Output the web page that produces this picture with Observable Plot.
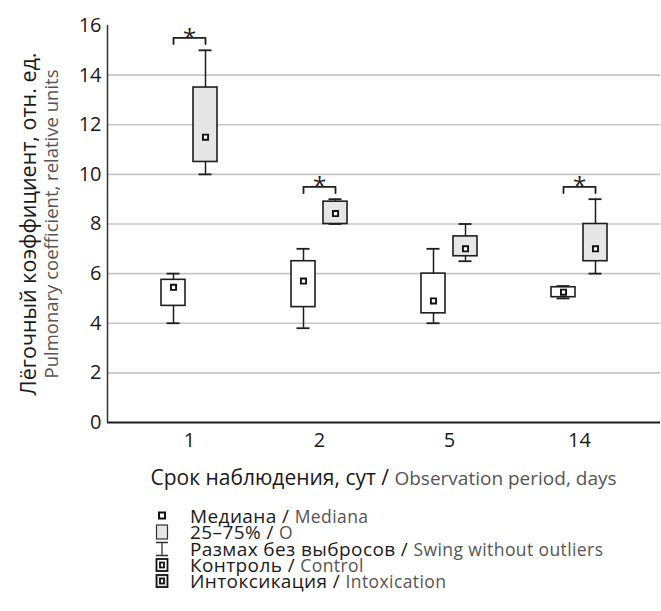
<!DOCTYPE html>
<html><head><meta charset="utf-8">
<script src="https://cdn.jsdelivr.net/npm/d3@7"></script>
<script src="https://cdn.jsdelivr.net/npm/@observablehq/plot@0.6"></script>
<style>
body{margin:0;background:#fff;font-family:"Open Sans",sans-serif;}
#wrap{position:relative;width:661px;height:611px;background:#fff;}
#xtitle{position:absolute;left:107px;width:553px;top:464px;text-align:center;white-space:pre;line-height:26px;}
.blk{color:#1a1a1a;font-size:21px;white-space:pre;}
.gry{color:#555;font-size:19px;white-space:pre;}
#legend{position:absolute;left:150px;top:508px;}
.row{display:flex;align-items:center;height:16.3px;white-space:pre;line-height:16px;letter-spacing:0.4px;}
.row svg{width:40px;height:16px;flex:none;}
.row .blk{font-size:19px;}
.row .gry{font-size:17.5px;}
</style></head>
<body><div id="wrap"><div id="chart"></div>
<div id="xtitle"></div>
<div id="legend"></div></div>
<script>
// ---- data ----
const days = ["1", "2", "5", "14"];
const groups = ["Контроль", "Интоксикация"];
const ctrlMin = [4.0, 3.8, 4.0, 5.0];
const ctrlQ1  = [4.7, 4.65, 4.4, 5.05];
const ctrlMed = [5.45, 5.7, 4.9, 5.25];
const ctrlQ3  = [5.75, 6.5, 6.0, 5.45];
const ctrlMax = [6.0, 7.0, 7.0, 5.5];
const intMin  = [10.0, 8.0, 6.5, 6.0];
const intQ1   = [10.5, 8.0, 6.7, 6.5];
const intMed  = [11.5, 8.42, 7.0, 7.0];
const intQ3   = [13.5, 8.9, 7.5, 8.0];
const intMax  = [15.0, 9.0, 8.0, 9.0];
const significant = [true, true, false, true];
const yTicks = [0, 2, 4, 6, 8, 10, 12, 14, 16];
const gridTicks = [2, 4, 6, 8, 10, 12, 14];
const yTitleRu = "Лёгочный коэффициент, отн. ед.";
const yTitleEn = "Pulmonary coefficient, relative units";
const xTitleRu = "Срок наблюдения, сут / ";
const xTitleEn = "Observation period, days";
const legendRu = ["Медиана / ", "25–75% / ", "Размах без выбросов / ", "Контроль / ", "Интоксикация / "];
const legendEn = ["Mediana", "O", "Swing without outliers", "Control", "Intoxication"];

// ---- layout constants (pixels → index units, one day step ≈ 130px) ----
const step = 130;
const xDomain = [-82 / step, 3 + 81 / step];
const off = 16 / step, hw = 12 / step, cap = 6.5 / step;

const rows = days.flatMap((d, i) => [
  {day: d, i, group: groups[0], pos: i - off, min: ctrlMin[i], q1: ctrlQ1[i], med: ctrlMed[i], q3: ctrlQ3[i], max: ctrlMax[i]},
  {day: d, i, group: groups[1], pos: i + off, min: intMin[i], q1: intQ1[i], med: intMed[i], q3: intQ3[i], max: intMax[i]}
]);
const sig = days.map((d, i) => ({day: d, i, x1: i - off, x2: i + off, y: intMax[i] + 0.5})).filter(d => significant[d.i]);
const bracketPts = sig.flatMap(s => [
  {day: s.day, x: s.x1, y: s.y - 0.25},
  {day: s.day, x: s.x1, y: s.y},
  {day: s.day, x: s.x2, y: s.y},
  {day: s.day, x: s.x2, y: s.y - 0.25}
]);

const ink = "#1e1e1e";
const chart = Plot.plot({
  width: 661, height: 460,
  marginLeft: 107, marginRight: 1, marginTop: 25, marginBottom: 38,
  x: {type: "linear", domain: xDomain},
  y: {domain: [0, 16]},
  style: {fontFamily: "'Open Sans', sans-serif", fontSize: "20px", color: "#1a1a1a", background: "#fff", overflow: "visible"},
  marks: [
    Plot.ruleY(gridTicks, {stroke: "#c6c6c6", strokeWidth: 1.6}),
    Plot.ruleX([xDomain[0]], {y1: 0, y2: 16, stroke: "#333", strokeWidth: 1.5}),
    Plot.ruleY([0], {stroke: ink, strokeWidth: 2}),
    Plot.axisY({ticks: yTicks, tickSize: 0, tickPadding: 6, fontSize: 20, label: null}),
    Plot.axisX({ticks: [0, 1, 2, 3], tickFormat: i => days[i], tickSize: 0, tickPadding: 10, fontSize: 20, label: null}),
    Plot.ruleX(rows, {x: "pos", y1: "min", y2: "max", stroke: ink, strokeWidth: 1.5}),
    Plot.ruleY(rows, {y: "max", x1: d => d.pos - cap, x2: d => d.pos + cap, stroke: ink, strokeWidth: 1.8}),
    Plot.ruleY(rows, {y: "min", x1: d => d.pos - cap, x2: d => d.pos + cap, stroke: ink, strokeWidth: 1.8}),
    Plot.rect(rows.filter(d => d.group === groups[0]), {x1: d => d.pos - hw, x2: d => d.pos + hw, y1: "q1", y2: "q3", fill: "#fff", stroke: ink, strokeWidth: 1.6}),
    Plot.rect(rows.filter(d => d.group === groups[1]), {x1: d => d.pos - hw, x2: d => d.pos + hw, y1: "q1", y2: "q3", fill: "#e6e6e6", stroke: ink, strokeWidth: 1.6}),
    Plot.dot(rows, {x: "pos", y: "med", symbol: "square", r: 2.9, fill: "#fff", stroke: "#111", strokeWidth: 1.9}),
    Plot.line(bracketPts, {x: "x", y: "y", z: "day", stroke: ink, strokeWidth: 1.8}),
    Plot.text(sig, {x: d => (d.x1 + d.x2) / 2, y: "y", text: () => "*", fontSize: 24, dy: 0, fill: ink}),
    Plot.text([yTitleRu], {frameAnchor: "left", text: d => d, rotate: -90, dx: -78, textAnchor: "middle", fontSize: 21.5, fill: "#1a1a1a"}),
    Plot.text([yTitleEn], {frameAnchor: "left", text: d => d, rotate: -90, dx: -55, textAnchor: "middle", fontSize: 18.5, fill: "#555"})
  ]
});
document.getElementById("chart").appendChild(chart);

document.getElementById("xtitle").innerHTML =
  `<span class="blk">${xTitleRu}</span><span class="gry">${xTitleEn}</span>`;

const icons = [
  `<rect x="4" y="4.5" width="6" height="6" fill="#fff" stroke="#111" stroke-width="2"/>`,
  `<rect x="1.5" y="1" width="11" height="14" fill="#e6e6e6" stroke="#333" stroke-width="1.2"/>`,
  `<path d="M1,1.5H13M7,1.5V14.5M1,14.5H13" fill="none" stroke="#333" stroke-width="1.3"/>`,
  `<rect x="1.5" y="2" width="11" height="12" fill="#fff" stroke="#111" stroke-width="1.8"/><rect x="5" y="5.5" width="4" height="5" fill="#fff" stroke="#111" stroke-width="1.8"/>`,
  `<rect x="1.5" y="2" width="11" height="12" fill="#e6e6e6" stroke="#111" stroke-width="1.8"/><rect x="5" y="5.5" width="4" height="5" fill="#fff" stroke="#111" stroke-width="1.8"/>`
];
document.getElementById("legend").innerHTML = legendRu.map((t, k) =>
  `<div class="row"><svg viewBox="-5 0 40 16">${icons[k]}</svg><span class="blk">${t}</span><span class="gry">${legendEn[k]}</span></div>`
).join("");
</script></body></html>
